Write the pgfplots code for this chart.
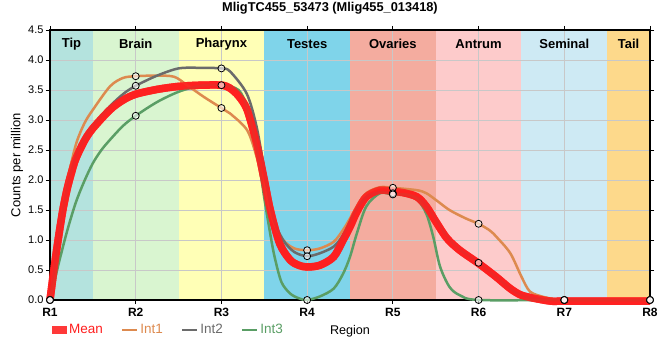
\documentclass[border=0pt]{standalone}
\usepackage{pgfplots}
\pgfplotsset{compat=1.18}
\usepackage{fontspec}
\setmainfont{Liberation Sans}
\definecolor{tipc}{HTML}{B4E3DE}
\definecolor{brainc}{HTML}{D9F5D0}
\definecolor{pharc}{HTML}{FFFFB6}
\definecolor{testc}{HTML}{7FD4EA}
\definecolor{ovac}{HTML}{F4AC9F}
\definecolor{antc}{HTML}{FDCBCB}
\definecolor{semc}{HTML}{CEEAF4}
\definecolor{tailc}{HTML}{FDD98B}
\definecolor{gridc}{HTML}{C8C8C8}
\definecolor{meanc}{HTML}{FF1E1E}
\definecolor{intA}{HTML}{DD8A4F}
\definecolor{intB}{HTML}{6B6B6B}
\definecolor{intC}{HTML}{5A9E65}
\begin{document}
\begin{tikzpicture}
\node[font=\fontsize{12.8bp}{15bp}\selectfont\bfseries] at (280bp,292bp) {MligTC455\_53473 (Mlig455\_013418)};
\begin{axis}[
  at={(0,0)}, anchor=south west,
  set layers,
  scale only axis, width=600bp, height=270bp,
  xmin=1, xmax=8, ymin=0, ymax=4.5,
  clip=false,
  xtick={1,2,3,4,5,6,7,8},
  xticklabels={R1,R2,R3,R4,R5,R6,R7,R8},
  ytick={0,0.5,1,1.5,2,2.5,3,3.5,4,4.5},
  yticklabel style={/pgf/number format/fixed, /pgf/number format/fixed zerofill, /pgf/number format/precision=1, /pgf/number format/assume math mode=true, font=\fontsize{11bp}{13bp}\selectfont, xshift=1bp},
  tick align=outside, major tick length=4bp,
  tick style={black, line width=0.8bp},
  xmajorgrids, ymajorgrids,
  grid style={gridc, line width=0.8bp},
  axis line style={black, line width=1.2bp},
  xticklabel style={font=\fontsize{12bp}{14bp}\selectfont\bfseries, yshift=-1bp},
  ylabel={Counts per million},
  ylabel style={font=\fontsize{13bp}{15bp}\selectfont, at={(axis description cs:-0.055,0.5)}, anchor=center},
  legend style={at={(0.1975,-0.111)}, anchor=center, draw=none, fill=none,
    legend columns=4, font=\fontsize{13.5bp}{15bp}\selectfont,
    /tikz/every even column/.append style={column sep=16bp},
    legend cell align=left, inner sep=0pt},
  legend image code/.code={\draw[#1] (0bp,0bp) -- (15bp,0bp);},
]
\addplot[fill=tipc, draw=none, on layer=axis background, forget plot] coordinates {(1,0) (1,4.5) (1.5,4.5) (1.5,0)} -- cycle;
\addplot[fill=brainc, draw=none, on layer=axis background, forget plot] coordinates {(1.5,0) (1.5,4.5) (2.5,4.5) (2.5,0)} -- cycle;
\addplot[fill=pharc, draw=none, on layer=axis background, forget plot] coordinates {(2.5,0) (2.5,4.5) (3.5,4.5) (3.5,0)} -- cycle;
\addplot[fill=testc, draw=none, on layer=axis background, forget plot] coordinates {(3.5,0) (3.5,4.5) (4.5,4.5) (4.5,0)} -- cycle;
\addplot[fill=ovac, draw=none, on layer=axis background, forget plot] coordinates {(4.5,0) (4.5,4.5) (5.5,4.5) (5.5,0)} -- cycle;
\addplot[fill=antc, draw=none, on layer=axis background, forget plot] coordinates {(5.5,0) (5.5,4.5) (6.5,4.5) (6.5,0)} -- cycle;
\addplot[fill=semc, draw=none, on layer=axis background, forget plot] coordinates {(6.5,0) (6.5,4.5) (7.5,4.5) (7.5,0)} -- cycle;
\addplot[fill=tailc, draw=none, on layer=axis background, forget plot] coordinates {(7.5,0) (7.5,4.5) (8,4.5) (8,0)} -- cycle;
% Mean (legend entry, drawn again on top below)
\addplot[meanc, opacity=0.88, line width=7.5bp, smooth, tension=0.5, no markers,
  legend image code/.code={\path[fill=meanc, draw=none, line width=0pt, fill opacity=0.88] (0bp,-4bp) rectangle (15bp,4bp);}] coordinates {
(1.0,0) (1.05,0.55) (1.1,1.05) (1.15,1.5) (1.2,1.85) (1.25,2.12) (1.3,2.35) (1.4,2.65) (1.5,2.86) (1.7,3.17) (1.85,3.33) (2.0,3.43) (2.25,3.51) (2.5,3.56) (2.75,3.58) (3.0,3.58) (3.1,3.53) (3.2,3.40) (3.3,3.17) (3.41,2.61) (3.5,2.0) (3.57,1.5) (3.68,0.94) (3.8,0.67) (3.9,0.58) (4.0,0.55) (4.15,0.58) (4.31,0.72) (4.42,1.0) (4.5,1.22) (4.58,1.47) (4.69,1.72) (4.85,1.83) (5.0,1.81) (5.12,1.79) (5.28,1.72) (5.39,1.56) (5.5,1.31) (5.63,1.03) (5.78,0.83) (6.0,0.61) (6.21,0.38) (6.37,0.19) (6.5,0.08) (6.68,0.02) (6.85,-0.02) (7,-0.02) (8,-0.02)};
\addlegendentry{\textcolor{meanc}{Mean}}
% Int1
\addplot[intA, line width=2.5bp, smooth, tension=0.5, no markers] coordinates {
(1.0,0) (1.05,0.5) (1.1,1.05) (1.2,1.95) (1.3,2.58) (1.4,2.94) (1.5,3.17) (1.7,3.56) (1.85,3.70) (2.0,3.73) (2.25,3.74) (2.45,3.72) (2.6,3.58) (2.8,3.38) (3.0,3.20) (3.1,3.11) (3.3,2.83) (3.41,2.39) (3.5,1.89) (3.6,1.33) (3.72,1.0) (3.85,0.86) (4.0,0.83) (4.15,0.86) (4.31,0.97) (4.42,1.17) (4.5,1.36) (4.58,1.56) (4.69,1.78) (4.85,1.88) (5.0,1.87) (5.28,1.83) (5.39,1.78) (5.5,1.67) (5.66,1.5) (5.85,1.36) (6.0,1.27) (6.13,1.16) (6.21,1.05) (6.37,0.78) (6.5,0.39) (6.6,0.14) (6.76,0.05) (6.9,0.01) (7,0) (8,0)};
\addlegendentry{\textcolor{intA}{Int1}}
% Int2
\addplot[intB, line width=2.5bp, smooth, tension=0.5, no markers] coordinates {
(1.0,0) (1.05,0.5) (1.1,1.05) (1.2,1.88) (1.3,2.38) (1.4,2.68) (1.5,2.9) (1.7,3.23) (1.86,3.44) (2.0,3.57) (2.25,3.74) (2.5,3.86) (2.75,3.87) (3.0,3.86) (3.1,3.81) (3.295,3.44) (3.41,2.89) (3.5,2.17) (3.6,1.39) (3.72,1.0) (3.85,0.8) (4.0,0.73) (4.15,0.78) (4.31,0.89) (4.42,1.08) (4.5,1.31) (4.58,1.52) (4.69,1.72) (4.85,1.80) (5.0,1.78) (5.28,1.71) (5.39,1.58) (5.5,1.35) (5.63,1.06) (5.78,0.84) (6.0,0.62) (6.21,0.38) (6.37,0.19) (6.5,0.08) (6.68,0.02) (7,0) (8,0)};
\addlegendentry{\textcolor{intB}{Int2}}
% Int3
\addplot[intC, line width=2.5bp, smooth, tension=0.5, no markers] coordinates {
(1.0,0) (1.1,0.6) (1.2,1.15) (1.3,1.62) (1.4,1.98) (1.5,2.28) (1.6,2.5) (1.7,2.67) (1.85,2.9) (2.0,3.07) (2.25,3.3) (2.5,3.47) (2.75,3.57) (3.0,3.58) (3.2,3.5) (3.3,3.2) (3.41,2.55) (3.5,1.7) (3.57,1.1) (3.62,0.72) (3.7,0.3) (3.8,0.11) (3.9,0.03) (4.0,0) (4.15,0.06) (4.31,0.19) (4.42,0.44) (4.5,0.72) (4.58,1.11) (4.69,1.56) (4.85,1.78) (5.0,1.76) (5.15,1.76) (5.28,1.69) (5.39,1.44) (5.47,1.06) (5.55,0.56) (5.66,0.22) (5.78,0.08) (6.0,0) (7,0) (8,0)};
\addlegendentry{\textcolor{intC}{Int3}}
% mean on top
\addplot[meanc, opacity=0.88, line width=7.5bp, smooth, tension=0.5, no markers, forget plot] coordinates {
(1.0,0) (1.05,0.55) (1.1,1.05) (1.15,1.5) (1.2,1.85) (1.25,2.12) (1.3,2.35) (1.4,2.65) (1.5,2.86) (1.7,3.17) (1.85,3.33) (2.0,3.43) (2.25,3.51) (2.5,3.56) (2.75,3.58) (3.0,3.58) (3.1,3.53) (3.2,3.40) (3.3,3.17) (3.41,2.61) (3.5,2.0) (3.57,1.5) (3.68,0.94) (3.8,0.67) (3.9,0.58) (4.0,0.55) (4.15,0.58) (4.31,0.72) (4.42,1.0) (4.5,1.22) (4.58,1.47) (4.69,1.72) (4.85,1.83) (5.0,1.81) (5.12,1.79) (5.28,1.72) (5.39,1.56) (5.5,1.31) (5.63,1.03) (5.78,0.83) (6.0,0.61) (6.21,0.38) (6.37,0.19) (6.5,0.08) (6.68,0.02) (6.85,-0.02) (7,-0.02) (8,-0.02)};
% markers
\addplot[only marks, mark=*, mark size=3.5bp, mark options={fill=white, fill opacity=0.6, draw=black, line width=0.8bp}, forget plot] coordinates {
(1,0) (2,3.73) (3,3.20) (4,0.83) (5,1.87) (6,1.27) (7,0) (8,0)};
\addplot[only marks, mark=*, mark size=3.5bp, mark options={fill=white, fill opacity=0.6, draw=black, line width=0.8bp}, forget plot] coordinates {
(1,0) (2,3.57) (3,3.86) (4,0.73) (5,1.78) (6,0.62) (7,0) (8,0)};
\addplot[only marks, mark=*, mark size=3.5bp, mark options={fill=white, fill opacity=0.6, draw=black, line width=0.8bp}, forget plot] coordinates {
(1,0) (2,3.07) (3,3.58) (4,0) (5,1.76) (6,0) (7,0) (8,0)};
% region labels
\node[font=\fontsize{13bp}{15bp}\selectfont\bfseries, anchor=center, yshift=-14bp] at (axis cs:1.25,4.5) {Tip};
\node[font=\fontsize{13bp}{15bp}\selectfont\bfseries, anchor=center, yshift=-14bp] at (axis cs:2,4.5) {Brain};
\node[font=\fontsize{13bp}{15bp}\selectfont\bfseries, anchor=center, yshift=-14bp] at (axis cs:3,4.5) {Pharynx};
\node[font=\fontsize{13bp}{15bp}\selectfont\bfseries, anchor=center, yshift=-14bp] at (axis cs:4,4.5) {Testes};
\node[font=\fontsize{13bp}{15bp}\selectfont\bfseries, anchor=center, yshift=-14bp] at (axis cs:5,4.5) {Ovaries};
\node[font=\fontsize{13bp}{15bp}\selectfont\bfseries, anchor=center, yshift=-14bp] at (axis cs:6,4.5) {Antrum};
\node[font=\fontsize{13bp}{15bp}\selectfont\bfseries, anchor=center, yshift=-14bp] at (axis cs:7,4.5) {Seminal};
\node[font=\fontsize{13bp}{15bp}\selectfont\bfseries, anchor=center, yshift=-14bp] at (axis cs:7.75,4.5) {Tail};
\node[font=\fontsize{12.6bp}{15bp}\selectfont, anchor=center, yshift=-31bp] at (rel axis cs:0.5,0) {Region};
\end{axis}
\pgfresetboundingbox
\path[use as bounding box] (-50bp,-60bp) rectangle (610bp,300bp);
\end{tikzpicture}
\end{document}
